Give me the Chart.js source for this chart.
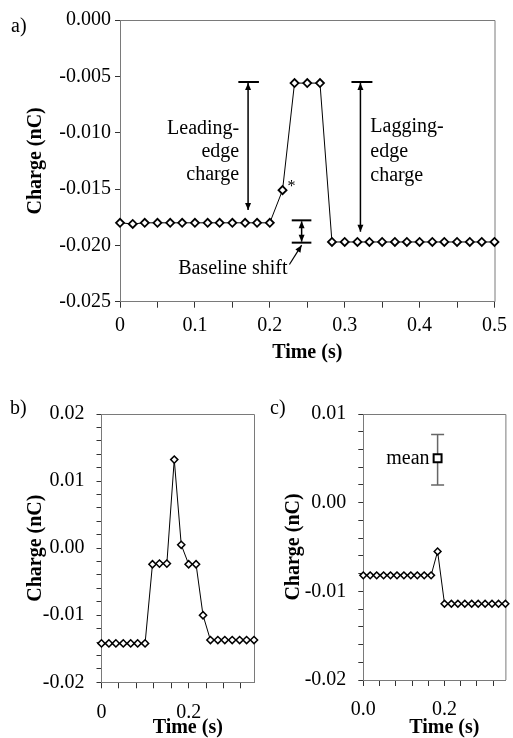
<!DOCTYPE html>
<html>
<head>
<meta charset="utf-8">
<script src="https://cdn.jsdelivr.net/npm/chart.js@4.4.1/dist/chart.umd.min.js"></script>
<style>
html, body { margin: 0; padding: 0; background: #fff; overflow: hidden; width: 513px; height: 738px; }
canvas { position: absolute; }
.panel { position: absolute; font: 20px 'Liberation Serif', 'Times New Roman', serif; line-height: 20px; color: #000; }
</style>
</head>
<body>
<canvas id="chartA" width="513" height="370" style="left:0;top:0"></canvas>
<canvas id="chartB" width="262" height="350" style="left:0;top:390px"></canvas>
<canvas id="chartC" width="253" height="350" style="left:260px;top:390px"></canvas>
<div class="panel" style="left:11px;top:15px">a)</div>
<div class="panel" style="left:10px;top:397px">b)</div>
<div class="panel" style="left:270px;top:397px">c)</div>
<script>
// panel a: one pulse, 60 Hz samples
const timeA = [0, 0.017, 0.033, 0.05, 0.067, 0.083, 0.1, 0.117, 0.133, 0.15, 0.167, 0.183, 0.2,
               0.217, 0.233, 0.25, 0.267, 0.283, 0.3, 0.317, 0.333, 0.35, 0.367, 0.383, 0.4,
               0.417, 0.433, 0.45, 0.467, 0.483, 0.5];
const chargeA = [-0.0180, -0.0181, -0.0180, -0.0180, -0.0180, -0.0180, -0.0180, -0.0180, -0.0180,
                 -0.0180, -0.0180, -0.0180, -0.0180, -0.0151, -0.0056, -0.0056, -0.0056, -0.0197,
                 -0.0197, -0.0197, -0.0197, -0.0197, -0.0197, -0.0197, -0.0197, -0.0197, -0.0197,
                 -0.0197, -0.0197, -0.0197, -0.0197];

// panels b and c
const timeBC = [0, 0.017, 0.033, 0.05, 0.067, 0.083, 0.1, 0.117, 0.133, 0.15, 0.167, 0.183,
                0.2, 0.217, 0.233, 0.25, 0.267, 0.283, 0.3, 0.317, 0.333, 0.35];
const chargeB = [-0.0142, -0.0142, -0.0142, -0.0142, -0.0142, -0.0142, -0.0142, -0.0024, -0.0023,
                 -0.0023, 0.0132, 0.0005, -0.0024, -0.0024, -0.0100, -0.0137, -0.0137, -0.0137,
                 -0.0137, -0.0137, -0.0137, -0.0137];
const chargeC = [-0.0082, -0.0082, -0.0082, -0.0082, -0.0082, -0.0082, -0.0082, -0.0082, -0.0082,
                 -0.0082, -0.0082, -0.0055, -0.0114, -0.0114, -0.0114, -0.0114, -0.0114, -0.0114,
                 -0.0114, -0.0114, -0.0114, -0.0114];

// mean with error bar (panel c)
const meanTime = [0.183];
const meanCharge = [0.0050];
const meanLow = [0.0020];
const meanHigh = [0.0077];

const serif = "'Liberation Serif', 'Times New Roman', serif";
const tickFont = { family: serif, size: 20 };
const titleFont = { family: serif, size: 20, weight: 'bold', lineHeight: 1.2 };
const axisGrey = '#7a7a7a';

Chart.defaults.font.family = serif;

function points(xs, ys) {
    let out = [];
    for (let i = 0; i < xs.length; i++) out.push({ x: xs[i], y: ys[i] });
    return out;
}

function round(v, d) {
    let f = Math.pow(10, d);
    return Math.round(v * f) / f;
}

// draws the top and right edges of the plot box
const frame = {
    id: 'frame',
    beforeDatasetsDraw(chart) {
        const a = chart.chartArea;
        const ctx = chart.ctx;
        ctx.save();
        ctx.strokeStyle = axisGrey;
        ctx.lineWidth = 1;
        ctx.beginPath();
        ctx.moveTo(a.left, a.top + 0.5);
        ctx.lineTo(a.right + 0.5, a.top + 0.5);
        ctx.lineTo(a.right + 0.5, a.bottom);
        ctx.stroke();
        ctx.restore();
    }
};

function head(ctx, x, y, ang) {
    const L = 7, W = 3;
    ctx.beginPath();
    ctx.moveTo(x, y);
    ctx.lineTo(x - L * Math.cos(ang) + W * Math.sin(ang), y - L * Math.sin(ang) - W * Math.cos(ang));
    ctx.lineTo(x - L * Math.cos(ang) - W * Math.sin(ang), y - L * Math.sin(ang) + W * Math.cos(ang));
    ctx.closePath();
    ctx.fill();
}

function arrow(ctx, x1, y1, x2, y2, both) {
    ctx.beginPath();
    ctx.moveTo(x1, y1);
    ctx.lineTo(x2, y2);
    ctx.stroke();
    head(ctx, x2, y2, Math.atan2(y2 - y1, x2 - x1));
    if (both) head(ctx, x1, y1, Math.atan2(y1 - y2, x1 - x2));
}

// brackets, arrows and words of panel a, placed in data units
const notesA = {
    id: 'notesA',
    afterDatasetsDraw(chart) {
        const ctx = chart.ctx;
        const px = v => chart.scales.x.getPixelForValue(v);
        const py = v => chart.scales.y.getPixelForValue(v);
        ctx.save();
        ctx.strokeStyle = '#000';
        ctx.fillStyle = '#000';

        ctx.lineWidth = 2;
        let caps = [[0.158, 0.1855, -0.0055], [0.309, 0.337, -0.0055],
                    [0.2293, 0.2555, -0.01778], [0.2293, 0.2555, -0.01976]];
        caps.forEach(c => {
            ctx.beginPath();
            ctx.moveTo(px(c[0]), py(c[2]));
            ctx.lineTo(px(c[1]), py(c[2]));
            ctx.stroke();
        });

        ctx.lineWidth = 1.5;
        arrow(ctx, px(0.171), py(-0.0055) + 1, px(0.171), py(-0.01686), true);
        arrow(ctx, px(0.321), py(-0.0055) + 1, px(0.321), py(-0.01879), true);
        arrow(ctx, px(0.2425), py(-0.01778) + 1, px(0.2425), py(-0.01976) - 1, true);
        ctx.lineWidth = 1.2;
        arrow(ctx, px(0.2262), py(-0.02170), px(0.2425), py(-0.01998), false);

        ctx.font = '20px ' + serif;
        ctx.textBaseline = 'middle';
        ctx.textAlign = 'right';
        ctx.fillText('Leading-', px(0.1592), py(-0.00967));
        ctx.fillText('edge', px(0.1592), py(-0.01171));
        ctx.fillText('charge', px(0.1592), py(-0.01376));
        ctx.fillText('Baseline shift', px(0.2237), py(-0.0221));
        ctx.textAlign = 'left';
        ctx.fillText('Lagging-', px(0.3342), py(-0.00950));
        ctx.fillText('edge', px(0.3342), py(-0.01171));
        ctx.fillText('charge', px(0.3342), py(-0.01384));
        ctx.font = '16px ' + serif;
        ctx.textAlign = 'center';
        ctx.fillText('*', px(0.229), py(-0.0148));
        ctx.restore();
    }
};

// error bar and label of the mean (panel c)
const notesC = {
    id: 'notesC',
    beforeDatasetsDraw(chart) {
        const ctx = chart.ctx;
        const px = v => chart.scales.x.getPixelForValue(v);
        const py = v => chart.scales.y.getPixelForValue(v);
        ctx.save();
        ctx.strokeStyle = '#666';
        ctx.lineWidth = 1.5;
        for (let i = 0; i < meanTime.length; i++) {
            let x = px(meanTime[i]);
            ctx.beginPath();
            ctx.moveTo(x, py(meanLow[i]));
            ctx.lineTo(x, py(meanHigh[i]));
            ctx.moveTo(x - 6.5, py(meanLow[i]));
            ctx.lineTo(x + 6.5, py(meanLow[i]));
            ctx.moveTo(x - 6.5, py(meanHigh[i]));
            ctx.lineTo(x + 6.5, py(meanHigh[i]));
            ctx.stroke();
            ctx.fillStyle = '#000';
            ctx.font = '20px ' + serif;
            ctx.textAlign = 'right';
            ctx.textBaseline = 'middle';
            ctx.fillText('mean', x - 8, py(meanCharge[i]));
        }
        ctx.restore();
    }
};

function traceSet(xs, ys, r, bw) {
    return {
        data: points(xs, ys),
        showLine: true,
        borderColor: '#000',
        borderWidth: 1,
        pointStyle: 'rectRot',
        pointRadius: r,
        pointHoverRadius: r,
        pointBorderWidth: bw,
        pointBorderColor: '#000',
        pointBackgroundColor: '#fff',
        clip: false
    };
}

// the x titles of the small panels sit a little right of centre
function xAxis(max, step, height, labelFn, pad, titlePad, titleText) {
    return {
        type: 'linear', min: 0, max: max,
        afterFit(s) { s.height = height; },
        border: { color: axisGrey, width: 1 },
        grid: { drawOnChartArea: false, tickLength: 6, color: '#333' },
        ticks: { stepSize: step, includeBounds: false, autoSkip: false, maxRotation: 0,
                 padding: pad, color: '#000', font: tickFont, callback: labelFn },
        title: { display: true, text: titleText, color: '#000', font: titleFont,
                 padding: { top: 0, bottom: titlePad } }
    };
}

function yAxis(min, max, step, width, labelFn, pad, titlePad) {
    return {
        min: min, max: max,
        afterFit(s) { s.width = width; },
        border: { color: axisGrey, width: 1 },
        grid: { drawOnChartArea: false, tickLength: 5, color: '#333' },
        ticks: { stepSize: step, autoSkip: false, padding: pad, color: '#000', font: tickFont,
                 callback: labelFn },
        title: { display: true, text: 'Charge (nC)', color: '#000', font: titleFont,
                 padding: { top: titlePad, bottom: 0 } }
    };
}

function baseOptions(padding, scales) {
    return {
        responsive: false,
        animation: false,
        layout: { padding: padding },
        plugins: { legend: { display: false }, tooltip: { enabled: false } },
        scales: scales
    };
}

// labels only on the round values
function every(step, digits, zeroText) {
    return function (v) {
        let q = v / step;
        if (Math.abs(q - Math.round(q)) > 1e-6) return '';
        let r = round(v, digits);
        if (r === 0 && zeroText) return zeroText;
        return r.toFixed(digits);
    };
}

new Chart(document.getElementById('chartA'), {
    type: 'scatter',
    data: { datasets: [traceSet(timeA, chargeA, 4, 1.8)] },
    options: baseOptions({ left: 0, right: 13, top: 20, bottom: 0 }, {
        x: xAxis(0.5, 0.05, 68.3, every(0.1, 1, '0'), 6, 5, 'Time (s)'),
        y: yAxis(-0.025, 0, 0.005, 120, v => round(v, 3).toFixed(3), 4, 24)
    }),
    plugins: [frame, notesA]
});

new Chart(document.getElementById('chartB'), {
    type: 'scatter',
    data: { datasets: [traceSet(timeBC, chargeB, 3.6, 1.5)] },
    options: baseOptions({ left: 0, right: 8, top: 23.3, bottom: 0 }, {
        x: xAxis(0.35, 0.04, 57.7, every(0.2, 1, '0'), 12, 0, '\u2003Time (s)'),
        y: yAxis(-0.02, 0.02, 0.002, 101.5, every(0.01, 2), 12, 24)
    }),
    plugins: [frame]
});

let meanSet = {
    data: points(meanTime, meanCharge),
    showLine: false,
    pointStyle: 'rect',
    pointRadius: 5.6,
    pointHoverRadius: 5.6,
    pointBorderWidth: 2,
    pointBorderColor: '#000',
    pointBackgroundColor: '#fff',
    clip: false
};

new Chart(document.getElementById('chartC'), {
    type: 'scatter',
    data: { datasets: [traceSet(timeBC, chargeC, 3.4, 1.5), meanSet] },
    options: baseOptions({ left: 0, right: 6.3, top: 23.3, bottom: 0 }, {
        x: xAxis(0.35, 0.04, 60, every(0.2, 1), 12, 0, '\u2003Time (s)'),
        y: yAxis(-0.02, 0.01, 0.002, 103.3, every(0.01, 2), 12, 22)
    }),
    plugins: [frame, notesC]
});
</script>
</body>
</html>
